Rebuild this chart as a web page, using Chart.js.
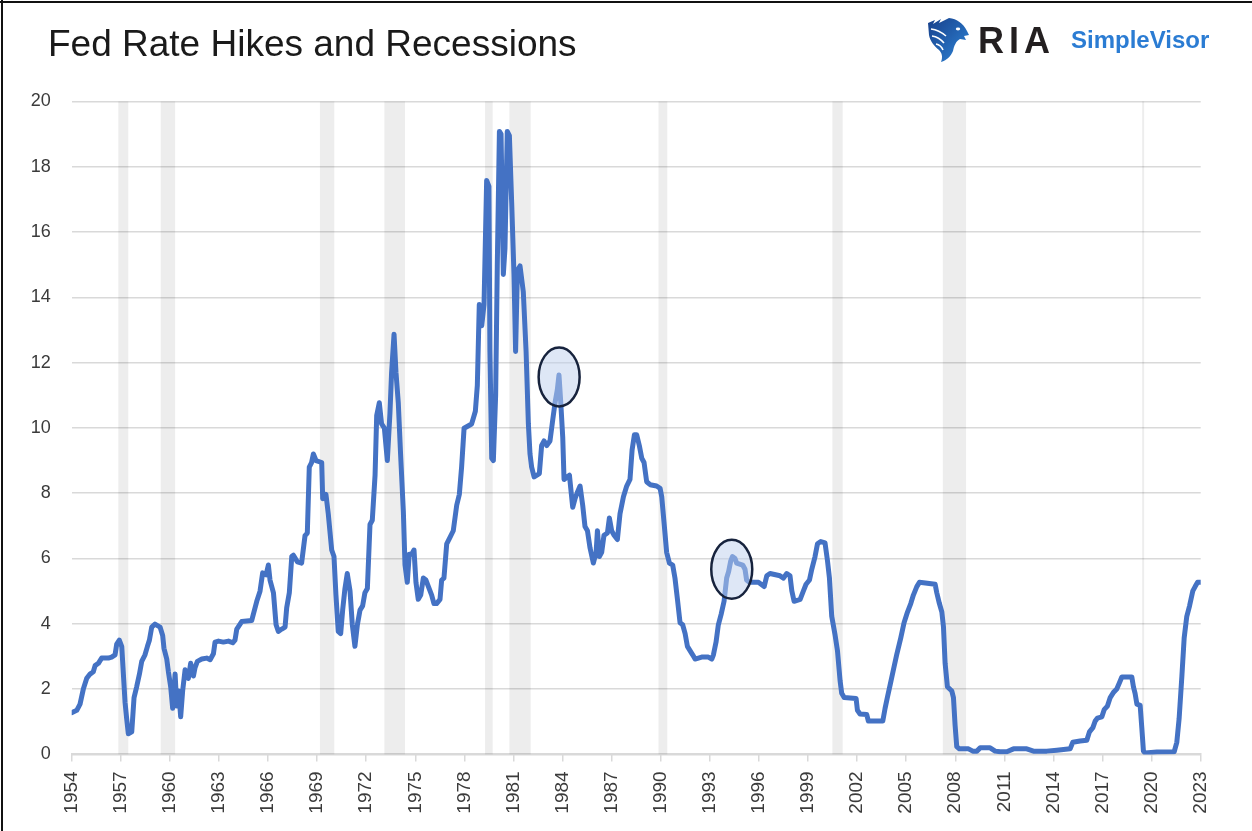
<!DOCTYPE html>
<html>
<head>
<meta charset="utf-8">
<title>Fed Rate Hikes and Recessions</title>
<script src="https://cdn.jsdelivr.net/npm/chart.js@4.4.1/dist/chart.umd.min.js"></script>
<style>
  body { margin: 0; background: #fff; }
  #wrap { position: relative; width: 1252px; height: 831px; overflow: hidden; font-family: "Liberation Sans", Arial, sans-serif; }
  #chart { position: absolute; left: 0; top: 0; }
  .frameTop { position: absolute; left: 0; top: 1px; width: 1252px; height: 2px; background: #111; }
  .frameLeft { position: absolute; left: 1px; top: 0; width: 2px; height: 831px; background: #111; }
  #title { position: absolute; left: 48px; top: 25px; font-size: 37px; line-height: 37px; color: #1a1a1a; white-space: nowrap; }
  #logo { position: absolute; left: 927px; top: 17px; }
  #ria { position: absolute; left: 978px; top: 23px; font-size: 36px; line-height: 36px; font-weight: bold; color: #231f20; letter-spacing: 5px; }
  #sv { position: absolute; left: 1071px; top: 28px; font-size: 24px; line-height: 24px; font-weight: bold; color: #2b7cd3; }
</style>
</head>
<body>
<div id="wrap">
  <canvas id="chart" width="1252" height="831"></canvas>
  <div class="frameTop"></div>
  <div class="frameLeft"></div>
  <div id="title">Fed Rate Hikes and Recessions</div>
  <svg id="logo" width="42" height="45" viewBox="0 0 42 45">
    <defs>
      <linearGradient id="eg" x1="0" y1="0" x2="1" y2="1">
        <stop offset="0" stop-color="#173f8a"/>
        <stop offset="1" stop-color="#2f86d8"/>
      </linearGradient>
    </defs>
    <path d="M1,6 L8,3 L6,7 L14,2 L12,6 L22,1 C30,2 36,6 40,14 L42,18 L37,19 L39,23 L33,22 C29,24 27,29 26,34 C24,39 20,43 14,45 C16,40 15,36 12,33 C7,29 3,24 2,18 Z" fill="url(#eg)"/>
    <path d="M4,12 Q12,13 19,19 M5,19 Q12,20 17,26 M9,27 Q14,28 16,33" stroke="#fff" stroke-width="1.6" fill="none"/>
    <ellipse cx="31" cy="12" rx="2.2" ry="1.4" fill="#fff"/>
  </svg>
  <div id="ria">RIA</div>
  <div id="sv">SimpleVisor</div>
</div>

<script>
// Fed funds rate (x = position on the year axis)
const years = [
  1954.00, 1954.31, 1954.51, 1954.71, 1954.92, 1955.12, 1955.32, 1955.43, 1955.63, 1955.83,
  1956.24, 1956.44, 1956.65, 1956.75, 1956.91, 1957.06, 1957.26, 1957.36, 1957.46, 1957.67,
  1957.81, 1957.97, 1958.14, 1958.28, 1958.48, 1958.63, 1958.75, 1958.89, 1959.09, 1959.40,
  1959.56, 1959.64, 1959.81, 1959.91, 1960.05, 1960.17, 1960.32, 1960.42, 1960.54, 1960.66,
  1960.78, 1960.93, 1961.13, 1961.27, 1961.44, 1961.54, 1961.68, 1961.95, 1962.25, 1962.46,
  1962.66, 1962.76, 1962.97, 1963.27, 1963.58, 1963.84, 1963.98, 1964.09, 1964.39, 1965.00,
  1965.10, 1965.31, 1965.51, 1965.67, 1965.88, 1966.02, 1966.12, 1966.33, 1966.49, 1966.63,
  1966.84, 1967.04, 1967.14, 1967.30, 1967.45, 1967.55, 1967.79, 1968.05, 1968.26, 1968.40,
  1968.52, 1968.66, 1968.77, 1968.93, 1969.28, 1969.34, 1969.54, 1969.68, 1969.89, 1970.03,
  1970.15, 1970.29, 1970.44, 1970.56, 1970.70, 1970.84, 1971.01, 1971.15, 1971.31, 1971.46,
  1971.62, 1971.78, 1971.92, 1972.07, 1972.23, 1972.37, 1972.54, 1972.64, 1972.80, 1972.94,
  1973.11, 1973.29, 1973.45, 1973.55, 1973.70, 1973.82, 1973.96, 1974.10, 1974.27, 1974.37,
  1974.51, 1974.63, 1974.78, 1974.92, 1975.04, 1975.18, 1975.33, 1975.49, 1975.65, 1975.80,
  1976.00, 1976.14, 1976.30, 1976.51, 1976.61, 1976.75, 1976.92, 1977.12, 1977.32, 1977.53,
  1977.69, 1977.83, 1977.98, 1978.44, 1978.55, 1978.67, 1978.79, 1978.91, 1979.06, 1979.20,
  1979.36, 1979.50, 1979.56, 1979.67, 1979.77, 1979.91, 1980.01, 1980.14, 1980.24, 1980.38,
  1980.48, 1980.62, 1980.75, 1980.89, 1981.03, 1981.13, 1981.24, 1981.40, 1981.60, 1981.77,
  1981.91, 1982.01, 1982.11, 1982.26, 1982.58, 1982.72, 1982.87, 1983.03, 1983.23, 1983.40,
  1983.54, 1983.68, 1983.78, 1983.89, 1984.01, 1984.09, 1984.42, 1984.50, 1984.62, 1984.76,
  1984.90, 1985.07, 1985.23, 1985.37, 1985.52, 1985.68, 1985.88, 1986.05, 1986.13, 1986.25,
  1986.39, 1986.53, 1986.74, 1986.86, 1987.00, 1987.15, 1987.35, 1987.51, 1987.72, 1987.92,
  1988.12, 1988.25, 1988.39, 1988.53, 1988.69, 1988.84, 1988.98, 1989.14, 1989.35, 1989.75,
  1989.96, 1990.06, 1990.20, 1990.36, 1990.53, 1990.73, 1990.87, 1991.02, 1991.18, 1991.34,
  1991.49, 1991.63, 1991.79, 1991.95, 1992.10, 1992.50, 1992.91, 1993.12, 1993.22, 1993.38,
  1993.52, 1993.69, 1993.87, 1994.03, 1994.15, 1994.28, 1994.38, 1994.54, 1994.64, 1995.01,
  1995.15, 1995.25, 1995.42, 1995.97, 1996.32, 1996.48, 1996.68, 1997.29, 1997.50, 1997.70,
  1997.90, 1998.01, 1998.15, 1998.52, 1998.72, 1998.88, 1999.09, 1999.23, 1999.43, 1999.58,
  1999.78, 2000.04, 2000.19, 2000.31, 2000.45, 2000.66, 2000.80, 2000.96, 2001.06, 2001.21,
  2001.94, 2002.02, 2002.18, 2002.59, 2002.69, 2003.57, 2003.71, 2003.85, 2004.02, 2004.22,
  2004.42, 2004.67, 2004.87, 2005.08, 2005.28, 2005.44, 2005.65, 2005.81, 2006.77, 2006.87,
  2007.03, 2007.18, 2007.28, 2007.38, 2007.52, 2007.79, 2007.89, 2007.99, 2008.09, 2008.25,
  2008.81, 2009.07, 2009.32, 2009.52, 2010.13, 2010.44, 2010.74, 2011.15, 2011.56, 2012.37,
  2012.78, 2013.59, 2014.21, 2015.02, 2015.18, 2015.63, 2016.04, 2016.20, 2016.41, 2016.55,
  2016.69, 2016.96, 2017.10, 2017.30, 2017.47, 2017.67, 2017.87, 2018.04, 2018.18, 2018.79,
  2018.89, 2018.99, 2019.10, 2019.30, 2019.40, 2019.50, 2019.61, 2020.32, 2021.38, 2021.54,
  2021.68, 2021.85, 2021.99, 2022.15, 2022.32, 2022.52, 2022.66, 2022.81, 2023.00
];

const rates = [
  1.28, 1.35, 1.54, 2.00, 2.33, 2.46, 2.53, 2.72, 2.79, 2.95,
  2.95, 2.98, 3.05, 3.38, 3.50, 3.30, 1.60, 1.09, 0.63, 0.69,
  1.74, 2.07, 2.46, 2.85, 3.05, 3.31, 3.50, 3.90, 3.99, 3.90,
  3.64, 3.25, 2.92, 2.53, 2.07, 1.41, 2.46, 1.48, 1.94, 1.15,
  1.94, 2.59, 2.33, 2.79, 2.40, 2.66, 2.85, 2.92, 2.95, 2.90,
  3.08, 3.44, 3.47, 3.44, 3.47, 3.42, 3.50, 3.84, 4.07, 4.10,
  4.29, 4.69, 5.00, 5.56, 5.50, 5.80, 5.34, 4.95, 3.97, 3.77,
  3.84, 3.90, 4.49, 4.95, 6.06, 6.10, 5.90, 5.86, 6.70, 6.78,
  8.80, 8.94, 9.20, 9.00, 8.94, 7.83, 7.96, 7.37, 6.26, 6.06,
  4.88, 3.77, 3.70, 4.42, 5.08, 5.54, 5.01, 3.97, 3.31, 3.97,
  4.42, 4.55, 4.95, 5.08, 7.04, 7.17, 8.55, 10.38, 10.77, 10.12,
  9.99, 9.00, 10.45, 11.69, 12.87, 11.69, 10.77, 9.20, 7.43, 5.80,
  5.27, 6.13, 6.13, 6.26, 5.27, 4.75, 4.88, 5.40, 5.34, 5.14,
  4.88, 4.62, 4.62, 4.75, 5.34, 5.40, 6.45, 6.65, 6.85, 7.63,
  7.96, 8.80, 9.99, 10.12, 10.30, 10.51, 11.30, 13.78, 13.13, 13.78,
  17.58, 17.40, 12.34, 9.07, 9.00, 11.00, 14.96, 19.08, 19.00, 14.70,
  15.50, 19.08, 18.95, 16.90, 14.70, 12.34, 14.83, 14.96, 14.17, 12.34,
  10.12, 9.20, 8.80, 8.50, 8.60, 9.46, 9.60, 9.46, 9.60, 10.25,
  10.77, 11.17, 11.62, 10.77, 9.72, 8.42, 8.55, 8.15, 7.57, 7.83,
  8.02, 8.22, 7.63, 6.98, 6.85, 6.32, 5.86, 6.19, 6.85, 6.06,
  6.19, 6.71, 6.78, 7.24, 6.85, 6.71, 6.58, 7.37, 7.89, 8.22,
  8.42, 9.33, 9.79, 9.79, 9.46, 9.07, 8.94, 8.35, 8.26, 8.22,
  8.15, 7.89, 7.11, 6.19, 5.86, 5.80, 5.40, 4.75, 4.03, 3.97,
  3.70, 3.31, 3.18, 3.05, 2.92, 2.98, 2.98, 2.92, 3.05, 3.44,
  3.97, 4.29, 4.69, 5.40, 5.60, 5.93, 6.06, 6.00, 5.86, 5.80,
  5.67, 5.34, 5.27, 5.27, 5.14, 5.47, 5.54, 5.47, 5.40, 5.54,
  5.47, 5.01, 4.69, 4.75, 5.01, 5.21, 5.34, 5.67, 6.06, 6.45,
  6.52, 6.48, 5.93, 5.40, 4.23, 3.64, 3.18, 2.26, 1.87, 1.74,
  1.71, 1.35, 1.24, 1.22, 1.02, 1.02, 1.41, 1.74, 2.13, 2.59,
  3.05, 3.57, 4.03, 4.36, 4.62, 4.88, 5.14, 5.27, 5.21, 4.95,
  4.62, 4.36, 3.90, 2.79, 2.07, 1.94, 1.74, 0.89, 0.24, 0.17,
  0.17, 0.10, 0.10, 0.20, 0.20, 0.10, 0.08, 0.08, 0.17, 0.17,
  0.10, 0.10, 0.13, 0.17, 0.37, 0.41, 0.43, 0.69, 0.82, 1.02,
  1.11, 1.15, 1.37, 1.48, 1.74, 1.90, 2.00, 2.20, 2.37, 2.37,
  2.07, 1.87, 1.54, 1.50, 0.82, 0.10, 0.04, 0.07, 0.08, 0.37,
  1.09, 2.40, 3.57, 4.23, 4.55, 5.01, 5.14, 5.27, 5.27
];

// Recession shading (start / end on the year axis)
const recessionStart = [1956.85, 1959.44, 1969.17, 1973.11, 1979.26, 1980.75, 1989.86, 2000.49, 2007.24, 2019.42];
const recessionEnd   = [1957.46, 1960.32, 1970.05, 1974.37, 1979.73, 1982.05, 1990.40, 2001.12, 2008.66, 2019.52];

// Highlighted peaks (circled)
const circleYears = [1983.79, 1994.34];
const circleRates = [11.56, 5.67];

const yTicks = [0, 2, 4, 6, 8, 10, 12, 14, 16, 18, 20];

const points = years.map((yr, i) => ({ x: yr, y: rates[i] }));

// grey bars behind the line
const recessionBands = {
  id: "recessionBands",
  beforeDatasetsDraw(chart) {
    const { ctx, chartArea, scales } = chart;
    ctx.save();
    ctx.fillStyle = "rgba(0, 0, 0, 0.07)";
    recessionStart.forEach((start, i) => {
      const x1 = scales.x.getPixelForValue(start);
      const x2 = scales.x.getPixelForValue(recessionEnd[i]);
      ctx.fillRect(x1, chartArea.top, Math.max(x2 - x1, 2), chartArea.bottom - chartArea.top);
    });
    ctx.restore();
  }
};

// circles over the two marked peaks
const peakCircles = {
  id: "peakCircles",
  afterDatasetsDraw(chart) {
    const { ctx, scales } = chart;
    ctx.save();
    circleYears.forEach((yr, i) => {
      const cx = scales.x.getPixelForValue(yr);
      const cy = scales.y.getPixelForValue(circleRates[i]);
      ctx.beginPath();
      ctx.ellipse(cx, cy, 20.5, 29.5, 0, 0, Math.PI * 2);
      ctx.fillStyle = "rgba(190, 208, 238, 0.5)";
      ctx.fill();
      ctx.lineWidth = 2.5;
      ctx.strokeStyle = "#17233d";
      ctx.stroke();
    });
    ctx.restore();
  }
};

const tickFont = { family: "'Liberation Sans', Arial, sans-serif", size: 18 };

new Chart(document.getElementById("chart"), {
  type: "line",
  data: {
    datasets: [{
      label: "Fed Funds Rate",
      data: points,
      borderColor: "#4472c4",
      borderWidth: 5,
      pointRadius: 0,
      tension: 0,
      borderJoinStyle: "round",
      borderCapStyle: "round",
      fill: false
    }]
  },
  options: {
    responsive: false,
    animation: false,
    devicePixelRatio: 1,
    layout: { padding: { top: 101.4, right: 51.3, left: 0, bottom: 0 } },
    plugins: {
      legend: { display: false },
      tooltip: { enabled: false }
    },
    scales: {
      x: {
        type: "linear",
        min: 1954,
        max: 2023,
        afterFit: (scale) => { scale.height = 831 - 754.4; },
        grid: { drawOnChartArea: false, drawTicks: true, tickLength: 7, color: "#d9d9d9", lineWidth: 1.5 },
        border: { display: true, color: "#d9d9d9", width: 2 },
        ticks: {
          stepSize: 3,
          autoSkip: false,
          minRotation: 90,
          maxRotation: 90,
          padding: 10,
          color: "#3b3b3b",
          font: { family: tickFont.family, size: 19 },
          callback: (v) => String(v)
        }
      },
      y: {
        min: 0,
        max: 20,
        afterFit: (scale) => { scale.width = 71.7; },
        afterBuildTicks: (scale) => { scale.ticks = yTicks.map(v => ({ value: v })); },
        grid: { color: "#d9d9d9", lineWidth: 1.5, drawTicks: false },
        border: { display: false },
        ticks: {
          padding: 21,
          color: "#3b3b3b",
          font: tickFont
        }
      }
    }
  },
  plugins: [recessionBands, peakCircles]
});
</script>
</body>
</html>
